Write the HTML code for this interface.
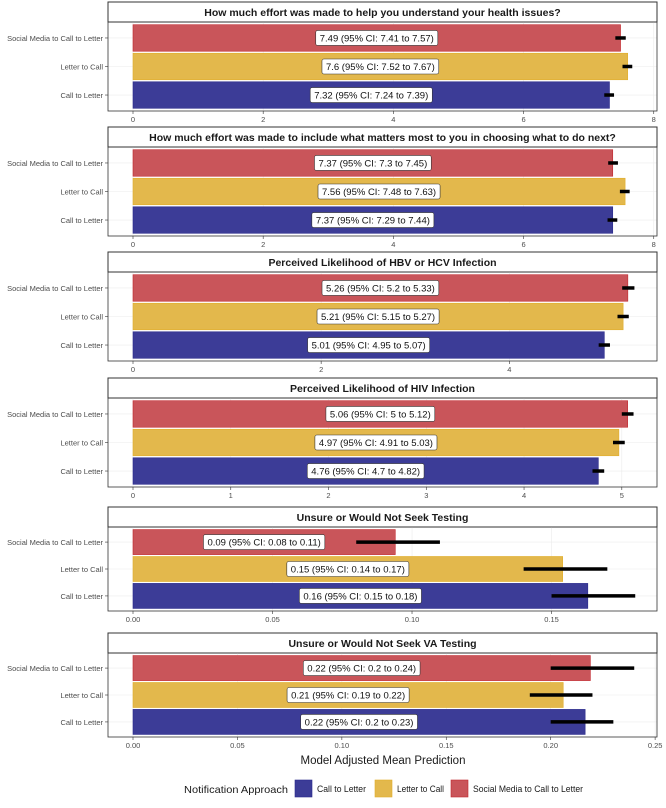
<!DOCTYPE html>
<html><head><meta charset="utf-8">
<style>
body{margin:0;background:#fff;font-family:"Liberation Sans",sans-serif;}
svg text{font-family:"Liberation Sans",sans-serif;}
</style></head>
<body>
<svg id="chart" width="666" height="803" viewBox="0 0 666 803"></svg>
<script>
const categories = ["Social Media to Call to Letter","Letter to Call","Call to Letter"];
const panelTitles = [
 "How much effort was made to help you understand your health issues?",
 "How much effort was made to include what matters most to you in choosing what to do next?",
 "Perceived Likelihood of HBV or HCV Infection",
 "Perceived Likelihood of HIV Infection",
 "Unsure or Would Not Seek Testing",
 "Unsure or Would Not Seek VA Testing"
];
// values in category order: SM, LtC, CtL
const means = [
 [7.49,7.6,7.32],
 [7.37,7.56,7.37],
 [5.26,5.21,5.01],
 [5.06,4.97,4.76],
 [0.094,0.154,0.163],
 [0.219,0.206,0.2165]
];
const lows = [
 [7.41,7.52,7.24],[7.3,7.48,7.29],[5.2,5.15,4.95],[5,4.91,4.7],[0.08,0.14,0.15],[0.2,0.19,0.2]
];
const highs = [
 [7.57,7.67,7.39],[7.45,7.63,7.44],[5.33,5.27,5.07],[5.12,5.03,4.82],[0.11,0.17,0.18],[0.24,0.22,0.23]
];
const labels = [
 ["7.49 (95% CI: 7.41 to 7.57)","7.6 (95% CI: 7.52 to 7.67)","7.32 (95% CI: 7.24 to 7.39)"],
 ["7.37 (95% CI: 7.3 to 7.45)","7.56 (95% CI: 7.48 to 7.63)","7.37 (95% CI: 7.29 to 7.44)"],
 ["5.26 (95% CI: 5.2 to 5.33)","5.21 (95% CI: 5.15 to 5.27)","5.01 (95% CI: 4.95 to 5.07)"],
 ["5.06 (95% CI: 5 to 5.12)","4.97 (95% CI: 4.91 to 5.03)","4.76 (95% CI: 4.7 to 4.82)"],
 ["0.09 (95% CI: 0.08 to 0.11)","0.15 (95% CI: 0.14 to 0.17)","0.16 (95% CI: 0.15 to 0.18)"],
 ["0.22 (95% CI: 0.2 to 0.24)","0.21 (95% CI: 0.19 to 0.22)","0.22 (95% CI: 0.2 to 0.23)"]
];
const tickVals = [
 [0,2,4,6,8],[0,2,4,6,8],[0,2,4],[0,1,2,3,4,5],[0,0.05,0.1,0.15],[0,0.05,0.1,0.15,0.2,0.25]
];
const tickLabels = [
 ["0","2","4","6","8"],["0","2","4","6","8"],["0","2","4"],["0","1","2","3","4","5"],
 ["0.00","0.05","0.10","0.15"],["0.00","0.05","0.10","0.15","0.20","0.25"]
];
const domainMax = [8.05,8.05,5.57,5.36,0.1878,0.2509];
const colors = ["#c9555a","#e3b84c","#3c3c97"];
const strokes = ["#c1272d","#e0ae2a","#2b2b8c"];
const panelTops = [2,127,252,378,507,633];

const NS="http://www.w3.org/2000/svg";
const svg=document.getElementById('chart');
function mk(tag,attrs,parent){const e=document.createElementNS(NS,tag);for(const k in attrs)e.setAttribute(k,attrs[k]);(parent||svg).appendChild(e);return e;}
const L=108,R=657,x0=133;
panelTitles.forEach((title,p)=>{
  const g=mk('g',{});
  
  
  const top=panelTops[p], stripH=20, plotTop=top+stripH, plotH=(p>=4?84:89), plotBot=plotTop+plotH;
  const xs=v=>x0+v*(R-x0)/domainMax[p];
  const st=mk('rect',{x:L,y:top,width:R-L,height:stripH,fill:'#fff',stroke:'#333','stroke-width':1},g);
  
  
  const tt=mk('text',{x:(L+R)/2,y:top+14,'text-anchor':'middle','font-size':'10.5','font-weight':'bold',fill:'#1a1a1a'},g);
  tt.textContent=title;
  
  
  const band=plotH/3.12, pad=(plotH-band*3)/2;
  tickVals[p].forEach((v,i)=>{
    mk('line',{x1:xs(v),x2:xs(v),y1:plotTop,y2:plotBot,stroke:'#ebebeb','stroke-width':0.6},g);
    mk('line',{x1:xs(v),x2:xs(v),y1:plotBot,y2:plotBot+3,stroke:'#333','stroke-width':0.6},g);
    const tl=mk('text',{x:xs(v),y:plotBot+11,'text-anchor':'middle','font-size':'7.5',fill:'#4d4d4d'},g);
    tl.textContent=tickLabels[p][i];
    
    
  });
  categories.forEach((c,i)=>{
    const cy=plotTop+pad+band*(i+0.5);
    mk('line',{x1:L,x2:R,y1:cy,y2:cy,stroke:'#ebebeb','stroke-width':0.6},g);
    mk('line',{x1:L-3,x2:L,y1:cy,y2:cy,stroke:'#333','stroke-width':0.6},g);
    const yl=mk('text',{x:L-5,y:cy+3,'text-anchor':'end','font-size':'7.5',fill:'#4d4d4d'},g);
    yl.textContent=c;
    
    
  });
  categories.forEach((c,i)=>{
    const cy=plotTop+pad+band*(i+0.5), bh=band*0.93;
    const b=mk('rect',{x:xs(0),y:cy-bh/2,width:xs(means[p][i])-xs(0),height:bh,fill:colors[i],stroke:strokes[i],'stroke-width':0.6},g);
    
    
    const eb=mk('line',{x1:xs(lows[p][i]),x2:xs(highs[p][i]),y1:cy,y2:cy,stroke:'#000','stroke-width':3.5},g);
    
    
    const lx=xs(means[p][i]/2);
    const t=mk('text',{x:lx,y:cy+3.5,'text-anchor':'middle','font-size':'9.5',fill:'#111'},g);
    t.textContent=labels[p][i];
    const w=t.getComputedTextLength()+8;
    const lb=mk('rect',{x:lx-w/2,y:cy-7.5,width:w,height:15,rx:2,fill:'#fff',stroke:'#333','stroke-width':0.6},g);
    g.insertBefore(lb,t);
    
    
    
    
  });
  mk('rect',{x:L,y:plotTop,width:R-L,height:plotH,fill:'none',stroke:'#333','stroke-width':0.8},g);
});
const xt=mk('text',{x:383,y:764,'text-anchor':'middle','font-size':'11.5',fill:'#1a1a1a'});
xt.textContent='Model Adjusted Mean Prediction';


const lg=mk('g',{});


const lt=mk('text',{x:184,y:793,'font-size':'10.5',fill:'#1a1a1a',textLength:104,lengthAdjust:'spacingAndGlyphs'},lg);
lt.textContent='Notification Approach';
const legItems=[["Call to Letter",295,2,49],["Letter to Call",375,1,47],["Social Media to Call to Letter",451,0,110]];
legItems.forEach(([name,x,ci,tw])=>{
  const r=mk('rect',{x:x,y:780,width:17,height:17,fill:colors[ci],stroke:strokes[ci],'stroke-width':0.6},lg);
  
  
  const t=mk('text',{x:x+22,y:792,'font-size':'9',fill:'#1a1a1a',textLength:tw,lengthAdjust:'spacingAndGlyphs'},lg);
  t.textContent=name;
  
  
});
</script>
</body></html>
